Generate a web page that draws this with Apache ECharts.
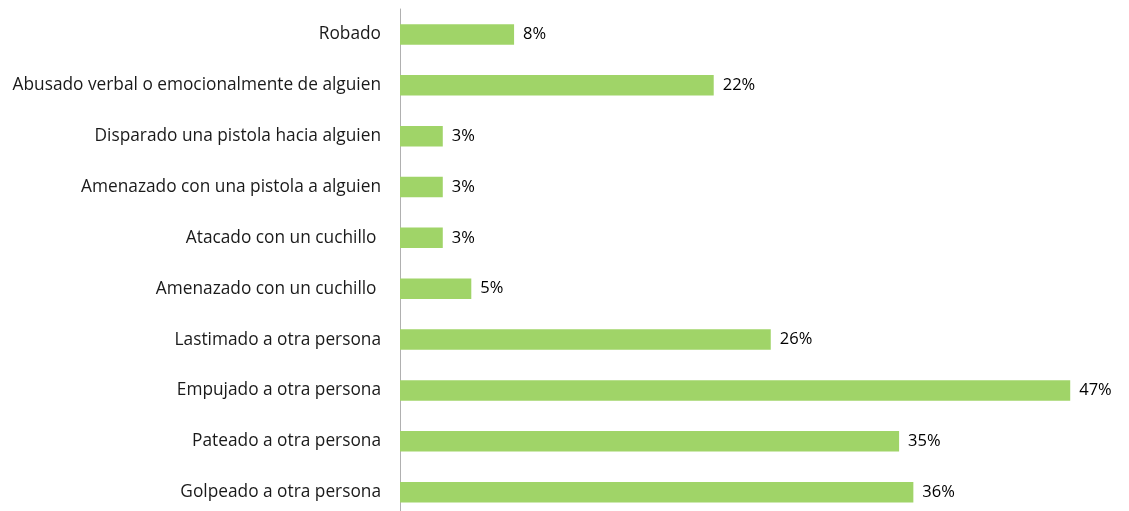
<!DOCTYPE html>
<html>
<head>
<meta charset="utf-8">
<script src="https://cdn.jsdelivr.net/npm/echarts@6/dist/echarts.min.js"></script>
<style>
  html, body { margin: 0; padding: 0; background: #fff; overflow: hidden; }
  #chart { width: 1129px; height: 530px; }
</style>
</head>
<body>
<div id="chart"></div>
<script>
// categories top to bottom
var categories = [
    "Robado",
    "Abusado verbal o emocionalmente de alguien",
    "Disparado una pistola hacia alguien",
    "Amenazado con una pistola a alguien",
    "Atacado con un cuchillo ",
    "Amenazado con un cuchillo ",
    "Lastimado a otra persona",
    "Empujado a otra persona",
    "Pateado a otra persona",
    "Golpeado a otra persona"
];
var values = [8, 22, 3, 3, 3, 5, 26, 47, 35, 36];

function sales_chart(){
    // div is a bit taller than the window so the axis runs off the bottom edge
    var chart = echarts.init(document.getElementById('chart'));

    var option = {
        animation: false,
        grid: { left: 400, top: 9, width: 713, height: 508.6 },
        xAxis: [{
            type: 'value',
            min: 0,
            max: 50,
            show: false
        }],
        yAxis: [{
            type: 'category',
            inverse: true,
            data: categories,
            axisLine: { lineStyle: { color: '#b0b0b0', width: 1 } },
            axisTick: { show: false },
            axisLabel: {
                color: '#1a1a1a',
                fontFamily: 'Open Sans',
                fontSize: 17.3,
                margin: 19
            }
        }],
        series: [{
            type: 'bar',
            data: values,
            barWidth: 20.5,
            itemStyle: { color: '#a0d468' },
            label: {
                show: true,
                position: 'right',
                distance: 9,
                formatter: '{c}%',
                color: '#000',
                fontFamily: 'Open Sans',
                fontSize: 16.5
            }
        }]
    };
    chart.setOption(option);
}

sales_chart();
</script>
</body>
</html>
